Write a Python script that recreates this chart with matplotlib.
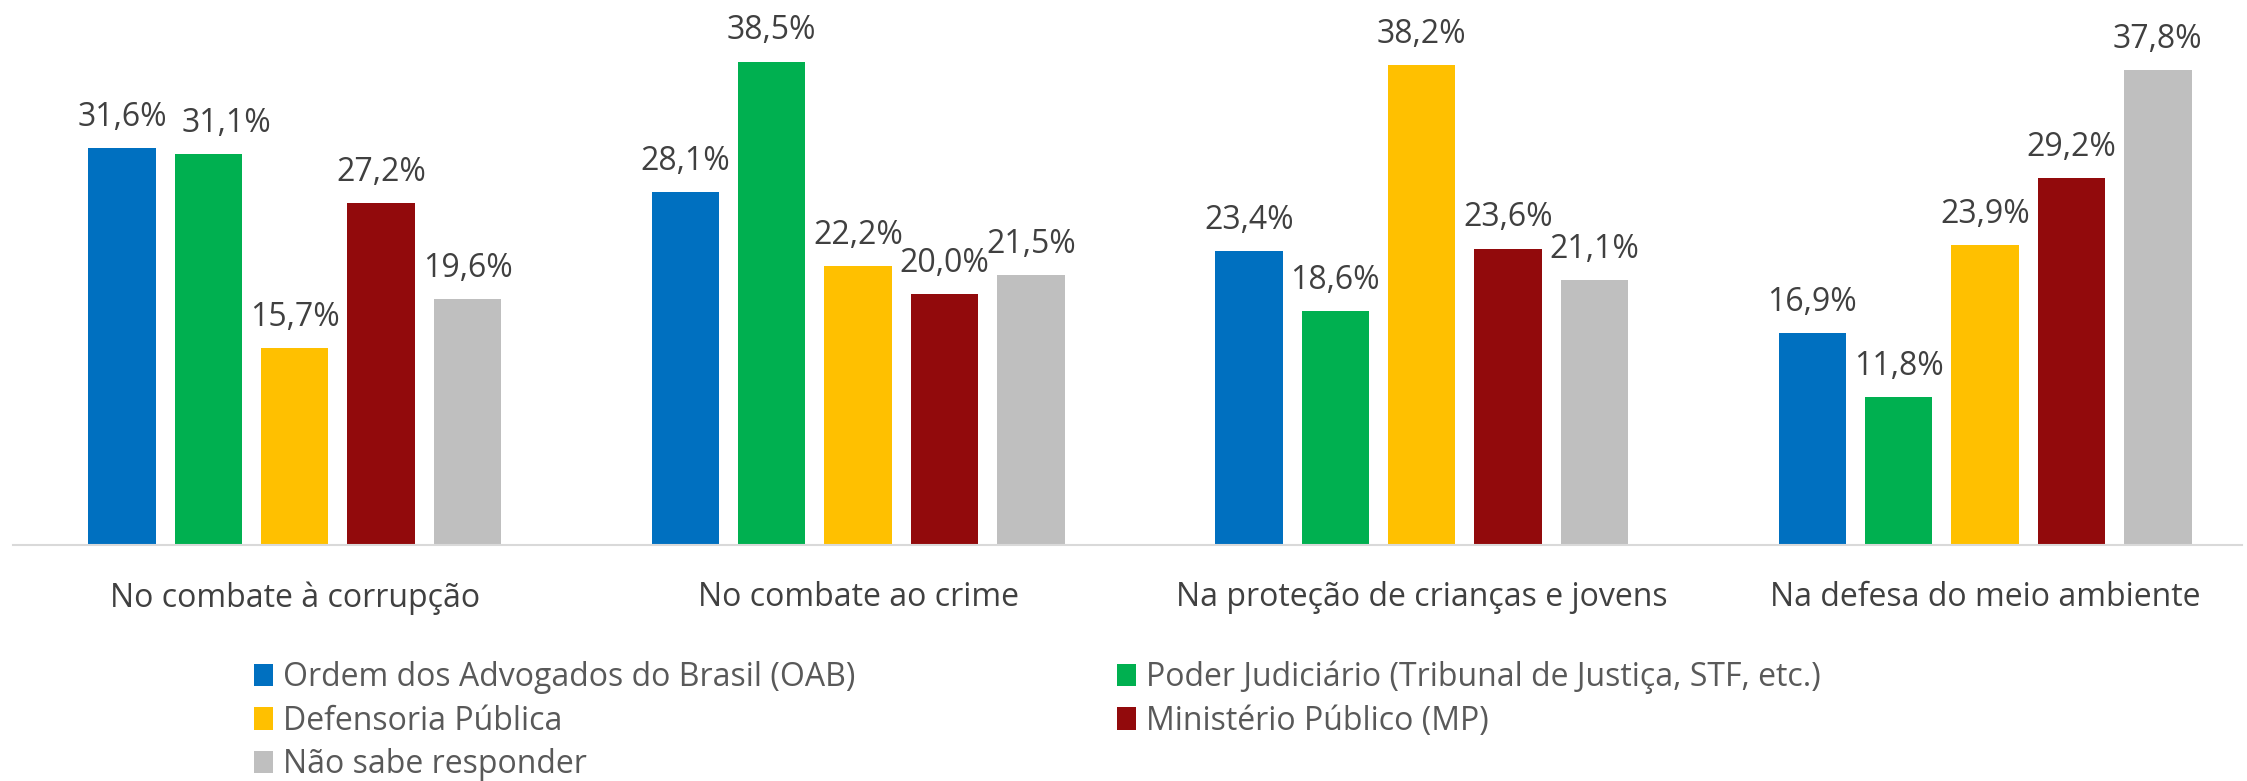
import matplotlib
matplotlib.use("Agg")
import matplotlib.pyplot as plt
import numpy as np

categories = ['No combate à corrupção', 'No combate ao crime',
              'Na proteção de crianças e jovens', 'Na defesa do meio ambiente']
series_names = ['Ordem dos Advogados do Brasil (OAB)',
                'Poder Judiciário (Tribunal de Justiça, STF, etc.)',
                'Defensoria Pública',
                'Ministério Público (MP)',
                'Não sabe responder']
oab = [31.6, 28.1, 23.4, 16.9]
judiciario = [31.1, 38.5, 18.6, 11.8]
defensoria = [15.7, 22.2, 38.2, 23.9]
mp = [27.2, 20.0, 23.6, 29.2]
nao_sabe = [19.6, 21.5, 21.1, 37.8]
colors = ['#0070C0', '#00B050', '#FFC000', '#920A0C', '#BFBFBF']

values = [oab, judiciario, defensoria, mp, nao_sabe]

# horizontal nudge (points) of individual data labels, as in the original
label_nudge = {(1, 0): 13}

plt.rcParams['font.family'] = ['Open Sans', 'DejaVu Sans']
FS_LAB = 23
FS = 23
TXT = '#404040'

fig = plt.figure(figsize=(22.47, 7.81), dpi=100)
ax = fig.add_axes([13/2247, 236/781, (2242-13)/2247, 1 - 236/781])

x = np.arange(len(categories))
step = 0.1533
width = 0.1196
handles = []
for i, (vals, c) in enumerate(zip(values, colors)):
    pos = x + (i - 2) * step
    b = ax.bar(pos, vals, width=width, color=c, label=series_names[i])
    handles.append(b)
    for j, (p, v) in enumerate(zip(pos, vals)):
        dx = label_nudge.get((i, j), 0)
        ax.annotate(f"{v:.1f}".replace('.', ',') + '%', (p, v),
                    xytext=(dx, 16), textcoords='offset points',
                    ha='center', va='baseline', fontsize=FS_LAB, color=TXT)

ax.set_xlim(-0.5, 3.456)
ax.set_ylim(0, 43.4)
ax.set_yticks([])
ax.set_xticks(x)
ax.set_xticklabels(categories, fontsize=FS, color=TXT)
ax.tick_params(axis='x', length=0, pad=26)
for s in ['top', 'right', 'left']:
    ax.spines[s].set_visible(False)
ax.spines['bottom'].set_color('#D9D9D9')
ax.spines['bottom'].set_linewidth(1.5)

order = [0, 2, 4, 1, 3]
leg = fig.legend([handles[i] for i in order], [series_names[i] for i in order],
                 ncol=2, loc='upper left', bbox_to_anchor=(238/2247, 1 - 645/781),
                 frameon=False, fontsize=FS, handlelength=0.6, handleheight=0.7,
                 handletextpad=0.3, columnspacing=8.2, labelspacing=0.32,
                 borderpad=0, labelcolor='#595959')

fig.savefig('out.png', dpi=100)
